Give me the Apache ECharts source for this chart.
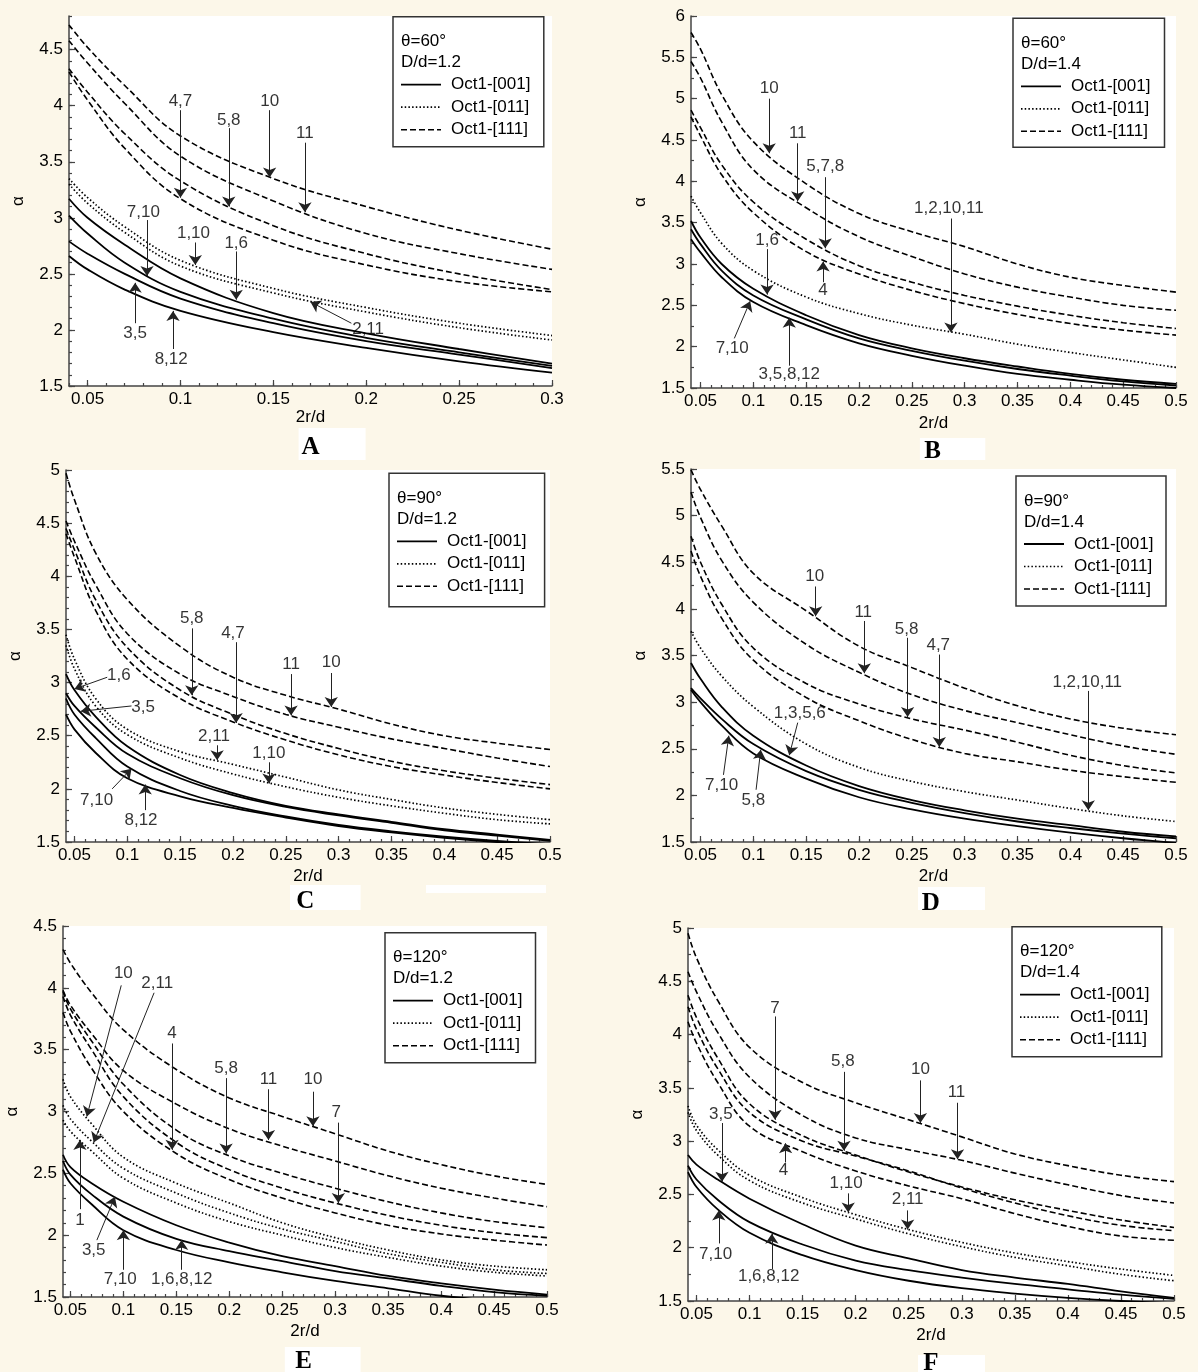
<!DOCTYPE html>
<html lang="en">
<head>
<meta charset="UTF-8">
<title>alpha vs 2r/d</title>
<script src="https://cdn.jsdelivr.net/npm/echarts@6/dist/echarts.min.js"></script>
<style>
  html, body { margin: 0; background: #fcf7e9; }
  #chart { width: 1198px; height: 1372px; }
</style>
</head>
<body>
<div id="chart"></div>
<script>
// 2r/d samples per panel (first value = left end of the axis)
const xsA = [0.04, 0.05, 0.07, 0.1, 0.15, 0.2, 0.25, 0.3]
const xsB = [0.041, 0.05, 0.07, 0.1, 0.15, 0.2, 0.25, 0.3, 0.35, 0.4, 0.45, 0.5]
const xsC = [0.042, 0.05, 0.07, 0.1, 0.15, 0.2, 0.25, 0.3, 0.35, 0.4, 0.45, 0.5]
const xsD = [0.041, 0.05, 0.07, 0.1, 0.15, 0.2, 0.25, 0.3, 0.35, 0.4, 0.45, 0.5]
const xsE = [0.043, 0.05, 0.07, 0.1, 0.15, 0.2, 0.25, 0.3, 0.35, 0.4, 0.45, 0.5]
const xsF = [0.042, 0.05, 0.07, 0.1, 0.15, 0.2, 0.25, 0.3, 0.35, 0.4, 0.45, 0.5]

// Panel A: theta=60, D/d=1.2
const solidA = [
  [3.17, 3.00, 2.76, 2.46, 2.15, 1.97, 1.83, 1.70],
  [3.02, 2.86, 2.60, 2.34, 2.10, 1.93, 1.80, 1.68],
  [2.79, 2.68, 2.50, 2.28, 2.06, 1.90, 1.78, 1.66],
  [2.66, 2.54, 2.36, 2.17, 1.98, 1.84, 1.72, 1.62]
]
const dottedA = [
  [3.35, 3.18, 2.92, 2.62, 2.37, 2.20, 2.06, 1.95],
  [3.30, 3.13, 2.87, 2.57, 2.33, 2.16, 2.02, 1.91]
]
const dashedA = [
  [4.72, 4.52, 4.18, 3.73, 3.35, 3.10, 2.89, 2.72],
  [4.58, 4.38, 4.02, 3.55, 3.15, 2.86, 2.68, 2.54],
  [4.33, 4.12, 3.75, 3.33, 2.93, 2.68, 2.50, 2.36],
  [4.30, 4.05, 3.62, 3.17, 2.80, 2.58, 2.43, 2.34]
]

// Panel B: theta=60, D/d=1.4
const solidB = [
  [3.52, 3.32, 3.00, 2.70, 2.38, 2.14, 1.98, 1.86, 1.76, 1.67, 1.60, 1.55],
  [3.42, 3.24, 2.92, 2.62, 2.33, 2.10, 1.95, 1.83, 1.73, 1.65, 1.58, 1.53],
  [3.30, 3.14, 2.84, 2.54, 2.26, 2.04, 1.89, 1.77, 1.67, 1.60, 1.54, 1.50]
]
const dottedB = [
  [3.82, 3.62, 3.25, 2.92, 2.60, 2.40, 2.26, 2.15, 2.03, 1.93, 1.84, 1.75]
]
const dashedB = [
  [5.80, 5.60, 5.05, 4.48, 3.97, 3.61, 3.39, 3.21, 3.00, 2.84, 2.74, 2.66],
  [5.45, 5.25, 4.72, 4.14, 3.68, 3.33, 3.09, 2.88, 2.72, 2.60, 2.50, 2.44],
  [4.86, 4.65, 4.20, 3.75, 3.30, 2.98, 2.78, 2.62, 2.49, 2.38, 2.29, 2.22],
  [4.78, 4.55, 4.08, 3.62, 3.15, 2.88, 2.68, 2.52, 2.39, 2.28, 2.20, 2.14]
]

// Panel C: theta=90, D/d=1.2
const solidC = [
  [3.08, 2.93, 2.68, 2.40, 2.13, 1.96, 1.84, 1.76, 1.69, 1.62, 1.57, 1.52],
  [2.90, 2.78, 2.58, 2.33, 2.10, 1.94, 1.83, 1.75, 1.68, 1.61, 1.56, 1.51],
  [2.85, 2.70, 2.48, 2.21, 1.98, 1.84, 1.74, 1.66, 1.60, 1.55, 1.51, 1.48],
  [2.70, 2.56, 2.34, 2.10, 1.93, 1.82, 1.73, 1.65, 1.59, 1.54, 1.50, 1.47]
]
const dottedC = [
  [3.45, 3.22, 2.85, 2.56, 2.35, 2.23, 2.11, 1.99, 1.90, 1.82, 1.76, 1.71],
  [3.35, 3.13, 2.78, 2.51, 2.29, 2.14, 2.02, 1.92, 1.84, 1.77, 1.71, 1.67]
]
const dashedC = [
  [4.97, 4.72, 4.22, 3.78, 3.34, 3.05, 2.88, 2.75, 2.61, 2.50, 2.43, 2.37],
  [4.52, 4.33, 3.92, 3.46, 3.08, 2.87, 2.70, 2.58, 2.47, 2.38, 2.29, 2.21],
  [4.45, 4.25, 3.78, 3.33, 2.93, 2.70, 2.52, 2.38, 2.26, 2.17, 2.10, 2.04],
  [4.40, 4.18, 3.68, 3.22, 2.85, 2.63, 2.46, 2.32, 2.21, 2.13, 2.06, 2.00]
]

// Panel D: theta=90, D/d=1.4
const solidD = [
  [3.42, 3.25, 2.95, 2.64, 2.32, 2.10, 1.95, 1.84, 1.75, 1.68, 1.61, 1.56],
  [3.15, 3.04, 2.82, 2.55, 2.26, 2.06, 1.92, 1.81, 1.72, 1.65, 1.59, 1.54],
  [3.13, 3.00, 2.75, 2.45, 2.18, 1.98, 1.85, 1.75, 1.67, 1.60, 1.54, 1.49]
]
const dottedD = [
  [3.76, 3.58, 3.28, 2.95, 2.55, 2.30, 2.15, 2.04, 1.95, 1.86, 1.78, 1.72]
]
const dashedD = [
  [5.49, 5.28, 4.89, 4.38, 3.98, 3.60, 3.37, 3.15, 2.96, 2.82, 2.72, 2.65],
  [5.25, 4.98, 4.52, 4.07, 3.62, 3.32, 3.08, 2.91, 2.78, 2.65, 2.53, 2.44],
  [4.78, 4.50, 4.05, 3.58, 3.20, 2.98, 2.82, 2.70, 2.57, 2.43, 2.32, 2.24],
  [4.62, 4.35, 3.90, 3.45, 3.05, 2.80, 2.60, 2.45, 2.36, 2.27, 2.20, 2.14]
]

// Panel E: theta=120, D/d=1.2
const solidE = [
  [2.65, 2.55, 2.42, 2.27, 2.08, 1.94, 1.83, 1.75, 1.67, 1.61, 1.56, 1.52],
  [2.60, 2.49, 2.33, 2.15, 1.97, 1.87, 1.79, 1.71, 1.65, 1.59, 1.54, 1.51],
  [2.53, 2.42, 2.25, 2.04, 1.88, 1.78, 1.70, 1.63, 1.57, 1.51, 1.47, 1.44]
]
const dottedE = [
  [3.26, 3.12, 2.90, 2.63, 2.42, 2.26, 2.10, 1.98, 1.88, 1.80, 1.75, 1.72],
  [3.05, 2.94, 2.76, 2.54, 2.34, 2.18, 2.05, 1.95, 1.85, 1.78, 1.72, 1.69],
  [2.93, 2.84, 2.68, 2.46, 2.26, 2.11, 2.00, 1.90, 1.82, 1.75, 1.70, 1.67]
]
const dashedE = [
  [4.31, 4.20, 3.96, 3.66, 3.34, 3.11, 2.96, 2.82, 2.68, 2.57, 2.48, 2.41],
  [3.98, 3.86, 3.63, 3.33, 3.06, 2.86, 2.72, 2.60, 2.48, 2.38, 2.30, 2.23],
  [3.97, 3.83, 3.57, 3.22, 2.85, 2.64, 2.50, 2.38, 2.27, 2.18, 2.11, 2.06],
  [3.93, 3.78, 3.50, 3.12, 2.75, 2.53, 2.38, 2.26, 2.16, 2.08, 2.02, 1.98],
  [3.80, 3.65, 3.35, 3.00, 2.66, 2.45, 2.30, 2.18, 2.08, 2.01, 1.96, 1.92]
]

// Panel F: theta=120, D/d=1.4
const solidF = [
  [2.87, 2.78, 2.64, 2.46, 2.22, 2.02, 1.90, 1.79, 1.72, 1.66, 1.59, 1.53],
  [2.77, 2.64, 2.45, 2.24, 2.03, 1.88, 1.79, 1.72, 1.66, 1.61, 1.56, 1.52],
  [2.71, 2.57, 2.36, 2.14, 1.93, 1.79, 1.69, 1.62, 1.57, 1.53, 1.50, 1.48]
]
const dottedF = [
  [3.33, 3.15, 2.92, 2.68, 2.47, 2.31, 2.17, 2.05, 1.95, 1.87, 1.80, 1.74],
  [3.27, 3.10, 2.87, 2.63, 2.42, 2.27, 2.13, 2.01, 1.91, 1.83, 1.75, 1.69]
]
const dashedF = [
  [4.95, 4.72, 4.32, 3.88, 3.55, 3.36, 3.20, 3.04, 2.88, 2.77, 2.68, 2.62],
  [4.59, 4.40, 4.02, 3.60, 3.24, 3.03, 2.92, 2.82, 2.70, 2.59, 2.49, 2.42],
  [4.37, 4.16, 3.78, 3.35, 3.05, 2.87, 2.71, 2.57, 2.45, 2.35, 2.26, 2.19],
  [4.26, 4.05, 3.68, 3.27, 3.00, 2.86, 2.72, 2.56, 2.42, 2.30, 2.21, 2.16],
  [4.12, 3.92, 3.55, 3.14, 2.90, 2.72, 2.58, 2.46, 2.32, 2.20, 2.11, 2.07]
]

// Curve labels: [text, textX, textY, arrowFromX, arrowFromY, arrowToX, arrowToY]
const notesA = [
  ['4,7', 0.100, 4.04, 0.100, 3.96, 0.100, 3.18],
  ['5,8', 0.126, 3.87, 0.126, 3.80, 0.126, 3.10],
  ['10', 0.148, 4.04, 0.148, 3.96, 0.148, 3.36],
  ['11', 0.167, 3.75, 0.167, 3.67, 0.167, 3.05],
  ['7,10', 0.080, 3.05, 0.082, 2.98, 0.082, 2.48],
  ['1,10', 0.107, 2.86, 0.108, 2.78, 0.108, 2.58],
  ['1,6', 0.130, 2.77, 0.130, 2.70, 0.130, 2.27],
  ['2,11', 0.201, 2.01, 0.192, 2.06, 0.170, 2.25],
  ['3,5', 0.0756, 1.97, 0.0756, 2.06, 0.0756, 2.42],
  ['8,12', 0.095, 1.74, 0.096, 1.83, 0.096, 2.17]
]
const notesB = [
  ['10', 0.115, 5.12, 0.115, 5.00, 0.115, 4.34],
  ['11', 0.142, 4.58, 0.142, 4.46, 0.142, 3.76],
  ['5,7,8', 0.168, 4.18, 0.168, 4.05, 0.168, 3.19],
  ['4', 0.166, 2.68, 0.166, 2.78, 0.166, 3.03],
  ['1,2,10,11', 0.285, 3.67, 0.287, 3.55, 0.287, 2.17],
  ['1,6', 0.113, 3.29, 0.113, 3.18, 0.113, 2.63],
  ['7,10', 0.080, 1.98, 0.082, 2.10, 0.097, 2.55],
  ['3,5,8,12', 0.134, 1.67, 0.134, 1.77, 0.134, 2.35]
]
const notesC = [
  ['5,8', 0.161, 3.60, 0.161, 3.51, 0.161, 2.88],
  ['4,7', 0.200, 3.46, 0.203, 3.38, 0.203, 2.62],
  ['11', 0.255, 3.17, 0.255, 3.08, 0.255, 2.69],
  ['10', 0.293, 3.19, 0.293, 3.09, 0.293, 2.77],
  ['2,11', 0.182, 2.49, 0.185, 2.41, 0.185, 2.27],
  ['1,10', 0.234, 2.33, 0.234, 2.25, 0.234, 2.05],
  ['1,6', 0.092, 3.07, 0.081, 3.05, 0.050, 2.94],
  ['3,5', 0.115, 2.77, 0.104, 2.78, 0.056, 2.73],
  ['7,10', 0.071, 1.89, 0.0857, 2.00, 0.104, 2.19],
  ['8,12', 0.113, 1.70, 0.117, 1.80, 0.117, 2.04]
]
const notesD = [
  ['10', 0.158, 4.35, 0.159, 4.24, 0.159, 3.92],
  ['11', 0.204, 3.96, 0.205, 3.87, 0.205, 3.31],
  ['5,8', 0.245, 3.78, 0.246, 3.69, 0.246, 2.84],
  ['4,7', 0.275, 3.61, 0.276, 3.51, 0.276, 2.52],
  ['1,2,10,11', 0.416, 3.21, 0.417, 3.12, 0.417, 1.84],
  ['1,3,5,6', 0.144, 2.88, 0.142, 2.78, 0.134, 2.43],
  ['7,10', 0.070, 2.11, 0.0717, 2.22, 0.0768, 2.64],
  ['5,8', 0.100, 1.95, 0.1026, 2.06, 0.107, 2.49]
]
const notesE = [
  ['10', 0.100, 4.12, 0.098, 4.02, 0.0655, 2.96],
  ['2,11', 0.132, 4.04, 0.129, 3.96, 0.072, 2.75],
  ['4', 0.146, 3.63, 0.146, 3.55, 0.146, 2.69],
  ['5,8', 0.197, 3.35, 0.197, 3.27, 0.197, 2.66],
  ['11', 0.237, 3.26, 0.237, 3.18, 0.237, 2.77],
  ['10', 0.279, 3.26, 0.279, 3.16, 0.279, 2.88],
  ['7', 0.301, 2.99, 0.303, 2.91, 0.303, 2.26],
  ['1', 0.059, 2.12, 0.059, 2.21, 0.059, 2.77],
  ['3,5', 0.072, 1.88, 0.075, 1.96, 0.092, 2.31],
  ['7,10', 0.097, 1.64, 0.100, 1.72, 0.100, 2.04],
  ['1,6,8,12', 0.155, 1.64, 0.155, 1.72, 0.155, 1.96]
]
const notesF = [
  ['7', 0.124, 4.25, 0.124, 4.17, 0.124, 3.20],
  ['5,8', 0.188, 3.75, 0.189, 3.65, 0.189, 2.91],
  ['10', 0.261, 3.67, 0.261, 3.57, 0.261, 3.17],
  ['11', 0.295, 3.46, 0.296, 3.36, 0.296, 2.83],
  ['3,5', 0.073, 3.25, 0.074, 3.17, 0.074, 2.62],
  ['4', 0.132, 2.73, 0.134, 2.80, 0.134, 2.98],
  ['1,10', 0.191, 2.60, 0.193, 2.51, 0.193, 2.33],
  ['2,11', 0.249, 2.45, 0.249, 2.35, 0.249, 2.17],
  ['7,10', 0.068, 1.94, 0.071, 2.04, 0.071, 2.35],
  ['1,6,8,12', 0.118, 1.73, 0.121, 1.80, 0.121, 2.13]
]

// Tick labels
const xTicksA = [0.05, 0.1, 0.15, 0.2, 0.25, 0.3]
const xTicksHalf = [0.05, 0.1, 0.15, 0.2, 0.25, 0.3, 0.35, 0.4, 0.45, 0.5]
const yTicksA = [1.5, 2, 2.5, 3, 3.5, 4, 4.5]
const yTicksB = [1.5, 2, 2.5, 3, 3.5, 4, 4.5, 5, 5.5, 6]
const yTicksC = [1.5, 2, 2.5, 3, 3.5, 4, 4.5, 5]
const yTicksD = [1.5, 2, 2.5, 3, 3.5, 4, 4.5, 5, 5.5]
const yTicksE = [1.5, 2, 2.5, 3, 3.5, 4, 4.5]
const yTicksF = [1.5, 2, 2.5, 3, 3.5, 4, 4.5, 5]

const SERIES_NAMES = ['Oct1-[001]', 'Oct1-[011]', 'Oct1-[111]']
const FONT = '"Liberation Sans", Arial, sans-serif'
const INK = '#000'

const STYLES = [
  { width: 1.8, type: 'solid' },
  { width: 1.7, type: [1.5, 2.2] },
  { width: 1.6, type: [6, 3] }
]

const PANELS = [
  { letter: 'A', theta: '60', ratio: '1.2', xs: xsA, curves: [solidA, dottedA, dashedA], notes: notesA,
    xMin: 0.04, xMax: 0.3, yMax: 4.8, xTicks: xTicksA, yTicks: yTicksA, yMinor: 0.1,
    grid: { left: 69, top: 16, width: 483, height: 370 }, xGap: 17,
    box: [393, 16.7, 150.8, 130], mark: [310.5, 448], paper: [[298.6, 428, 67, 32]] },
  { letter: 'B', theta: '60', ratio: '1.4', xs: xsB, curves: [solidB, dottedB, dashedB], notes: notesB,
    xMin: 0.041, xMax: 0.5, yMax: 6, xTicks: xTicksHalf, yTicks: yTicksB, yMinor: 0.25,
    grid: { left: 691, top: 16, width: 485, height: 372 }, xGap: 27,
    box: [1013, 18.3, 151.5, 129], mark: [932.6, 452], paper: [[919.9, 438, 65.4, 22]] },
  { letter: 'C', theta: '90', ratio: '1.2', xs: xsC, curves: [solidC, dottedC, dashedC], notes: notesC,
    xMin: 0.042, xMax: 0.5, yMax: 5, xTicks: xTicksHalf, yTicks: yTicksC, yMinor: 0.1,
    grid: { left: 66, top: 470, width: 484, height: 372 }, xGap: 26,
    box: [389, 473.3, 155.6, 133.4], mark: [305.4, 902], paper: [[290, 885, 70.6, 25], [426, 885, 120, 8]] },
  { letter: 'D', theta: '90', ratio: '1.4', xs: xsD, curves: [solidD, dottedD, dashedD], notes: notesD,
    xMin: 0.041, xMax: 0.5, yMax: 5.5, xTicks: xTicksHalf, yTicks: yTicksD, yMinor: 0.25,
    grid: { left: 691, top: 469, width: 485, height: 373 }, xGap: 26,
    box: [1016, 476, 150, 130], mark: [930.8, 904], paper: [[918, 887, 67, 23]] },
  { letter: 'E', theta: '120', ratio: '1.2', xs: xsE, curves: [solidE, dottedE, dashedE], notes: notesE,
    xMin: 0.043, xMax: 0.5, yMax: 4.5, xTicks: xTicksHalf, yTicks: yTicksE, yMinor: 0.1,
    grid: { left: 63, top: 926, width: 484, height: 371 }, xGap: 26,
    box: [385, 932.7, 150.5, 130], mark: [303.7, 1362], paper: [[284.8, 1347, 75.8, 25]] },
  { letter: 'F', theta: '120', ratio: '1.4', xs: xsF, curves: [solidF, dottedF, dashedF], notes: notesF,
    xMin: 0.042, xMax: 0.5, yMax: 5, xTicks: xTicksHalf, yTicks: yTicksF, yMinor: 0.25,
    grid: { left: 688, top: 928, width: 486, height: 373 }, xGap: 26,
    box: [1012, 926.7, 149.8, 130], mark: [930.8, 1364], paper: [[918, 1355, 67, 17]] }
]

// evenly spaced tick positions inside [from, to]
function steps(from, to, step) {
  const out = []
  for (let k = Math.ceil(from / step - 1e-9); k * step <= to + 1e-9; k++) {
    out.push(+(k * step).toFixed(4))
  }
  return out
}

const grids = []
const xAxes = []
const yAxes = []
const series = []
const graphics = []

const axisLine = { show: true, lineStyle: { color: '#444', width: 1.5 } }
const tickLine = { color: '#444', width: 1.2 }
const labelText = { fontSize: 17, color: '#000', fontFamily: FONT }

PANELS.forEach((p, i) => {
  grids.push({ ...p.grid, show: true, backgroundColor: '#fff', borderWidth: 0 })

  // main axes
  xAxes.push({
    gridIndex: i, type: 'value', position: 'bottom', min: p.xMin, max: p.xMax,
    name: '2r/d', nameLocation: 'middle', nameGap: p.xGap, nameTextStyle: labelText,
    axisLine, splitLine: { show: false },
    axisTick: { show: true, inside: true, length: 6, customValues: p.xTicks, lineStyle: tickLine },
    axisLabel: { ...labelText, margin: 5, customValues: p.xTicks }
  })
  // minor ticks
  xAxes.push({
    gridIndex: i, type: 'value', position: 'bottom', min: p.xMin, max: p.xMax,
    axisLine: { show: false }, splitLine: { show: false }, axisLabel: { show: false },
    axisTick: { show: true, inside: true, length: 3, customValues: steps(p.xMin, p.xMax, 0.01), lineStyle: tickLine }
  })
  yAxes.push({
    gridIndex: i, type: 'value', position: 'left', min: 1.5, max: p.yMax,
    name: 'α', nameLocation: 'middle', nameRotate: 90, nameGap: 42, nameTextStyle: labelText,
    axisLine, splitLine: { show: false },
    axisTick: { show: true, inside: true, length: 6, customValues: p.yTicks, lineStyle: tickLine },
    axisLabel: { ...labelText, margin: 6, customValues: p.yTicks }
  })
  yAxes.push({
    gridIndex: i, type: 'value', position: 'left', min: 1.5, max: p.yMax,
    axisLine: { show: false }, splitLine: { show: false }, axisLabel: { show: false },
    axisTick: { show: true, inside: true, length: 3, customValues: steps(1.5, p.yMax, p.yMinor), lineStyle: tickLine }
  })

  const xi = 2 * i
  p.curves.forEach((group, g) => {
    group.forEach(ys => {
      series.push({
        type: 'line', name: SERIES_NAMES[g], xAxisIndex: xi, yAxisIndex: xi,
        data: p.xs.map((x, k) => [x, ys[k]]),
        smooth: 0.4, symbol: 'none', silent: true,
        lineStyle: { color: INK, width: STYLES[g].width, type: STYLES[g].type }
      })
    })
  })

  // arrows pointing at curves
  series.push({
    type: 'lines', coordinateSystem: 'cartesian2d', xAxisIndex: xi, yAxisIndex: xi,
    symbol: ['none', 'arrow'], symbolSize: 10, silent: true, z: 4,
    lineStyle: { color: '#222', width: 1, opacity: 1, curveness: 0 },
    data: p.notes.map(n => ({ coords: [[n[3], n[4]], [n[5], n[6]]] }))
  })
  // curve numbers
  series.push({
    type: 'scatter', xAxisIndex: xi, yAxisIndex: xi, symbolSize: 0, silent: true, z: 5,
    itemStyle: { color: '#000' },
    label: {
      show: true, position: 'inside', formatter: '{b}', ...labelText,
      textBorderWidth: 0, textBorderColor: 'transparent'
    },
    data: p.notes.map(n => ({ name: n[0], value: [n[1], n[2]] }))
  })

  // legend box with the case parameters
  const [bx, by, bw, bh] = p.box
  graphics.push({
    type: 'rect', z: 20, shape: { x: bx, y: by, width: bw, height: bh },
    style: { fill: '#fff', stroke: '#333', lineWidth: 1.5 }
  })
  const rows = ['θ=' + p.theta + '°', 'D/d=' + p.ratio]
  rows.forEach((t, r) => {
    graphics.push({
      type: 'text', z: 21, x: bx + 8, y: by + 25 + r * 21,
      style: { text: t, fontSize: 17, fontFamily: FONT, fill: '#000', verticalAlign: 'middle' }
    })
  })
  SERIES_NAMES.forEach((name, g) => {
    const ly = by + 68 + g * 22.5
    graphics.push({
      type: 'line', z: 21, shape: { x1: bx + 8, y1: ly, x2: bx + 48, y2: ly },
      style: { stroke: INK, lineWidth: STYLES[g].width, lineDash: g === 0 ? null : STYLES[g].type }
    })
    graphics.push({
      type: 'text', z: 21, x: bx + 58, y: ly,
      style: { text: name, fontSize: 17, fontFamily: FONT, fill: '#000', verticalAlign: 'middle' }
    })
  })

  // panel letter on its white patch
  p.paper.forEach(r => {
    graphics.push({ type: 'rect', z: 1, shape: { x: r[0], y: r[1], width: r[2], height: r[3] }, style: { fill: '#fff' } })
  })
  graphics.push({
    type: 'text', z: 2, x: p.mark[0], y: p.mark[1],
    style: {
      text: p.letter, fontSize: 25, fontWeight: 'bold', fontFamily: '"Liberation Serif", "Times New Roman", serif',
      fill: INK, align: 'center', verticalAlign: 'middle'
    }
  })
})

const chart = echarts.init(document.getElementById('chart'))
chart.setOption({
  backgroundColor: '#fcf7e9',
  animation: false,
  grid: grids,
  xAxis: xAxes,
  yAxis: yAxes,
  series,
  graphic: { elements: graphics }
})
</script>
</body>
</html>
